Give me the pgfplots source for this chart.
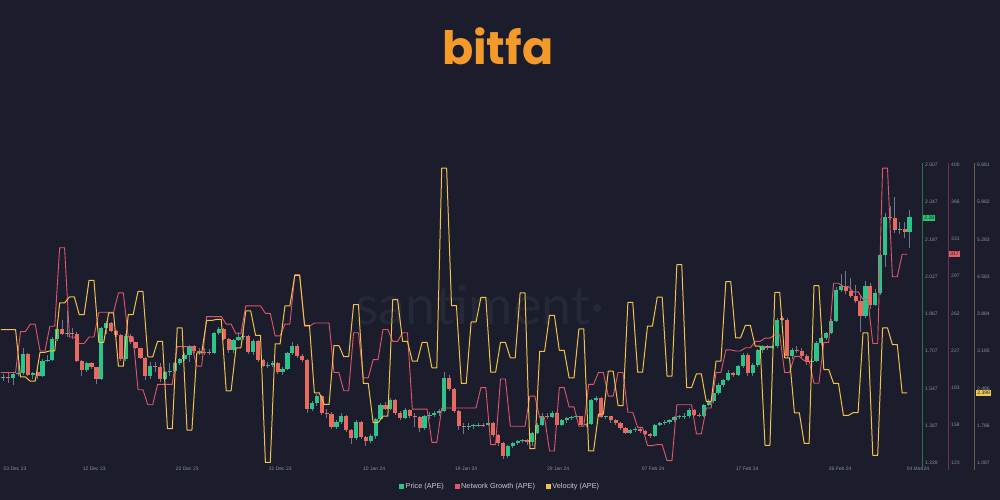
\documentclass[border=0pt]{standalone}
\usepackage{pgfplots}
\pgfplotsset{compat=1.18}
\usepackage{pgfplotstable}
\usepackage{fontspec}
\setmainfont{Liberation Sans}
\newfontfamily\logofont{Poppins}
\newfontfamily\wmfont{Lato}
\definecolor{bg}{HTML}{1B1D2C}
\definecolor{cgreen}{HTML}{2BC48A}
\definecolor{cred}{HTML}{EB6A5F}
\definecolor{wickc}{HTML}{6E7690}
\definecolor{netc}{HTML}{E0566B}
\definecolor{velc}{HTML}{F2C14E}
\definecolor{lblc}{HTML}{8B8E9E}
\definecolor{legc}{HTML}{C9CAD3}
\definecolor{logoc}{HTML}{F39A2B}
\definecolor{wmc}{HTML}{252839}
\definecolor{axg}{HTML}{2E6E4D}
\definecolor{axr}{HTML}{6E3552}
\definecolor{axt}{HTML}{6B5F48}
\definecolor{boxg}{HTML}{26C46E}
\definecolor{boxr}{HTML}{E35D6A}
\definecolor{boxy}{HTML}{F0C94D}

\pgfplotstableread{
i O H L C
0 1.592 1.610 1.578 1.596
1 1.596 1.613 1.570 1.592
2 1.592 1.615 1.563 1.610
3 1.610 1.660 1.600 1.615
4 1.615 1.720 1.606 1.696
5 1.696 1.700 1.600 1.606
6 1.606 1.620 1.590 1.612
7 1.618 1.630 1.590 1.599
8 1.599 1.675 1.595 1.666
9 1.666 1.692 1.660 1.670
10 1.670 1.770 1.665 1.759
11 1.759 1.840 1.750 1.802
12 1.802 1.842 1.775 1.781
13 1.781 1.885 1.770 1.785
14 1.785 1.806 1.760 1.780
15 1.780 1.790 1.660 1.666
16 1.666 1.670 1.600 1.628
17 1.628 1.660 1.620 1.656
18 1.656 1.660 1.630 1.638
19 1.638 1.640 1.566 1.589
20 1.589 1.810 1.585 1.806
21 1.806 1.835 1.780 1.828
22 1.828 1.832 1.790 1.796
23 1.796 1.800 1.770 1.778
24 1.778 1.782 1.665 1.673
25 1.673 1.780 1.665 1.773
26 1.773 1.780 1.740 1.745
27 1.745 1.748 1.715 1.720
28 1.720 1.722 1.675 1.680
29 1.680 1.682 1.585 1.599
30 1.599 1.660 1.590 1.645
31 1.645 1.660 1.620 1.641
32 1.641 1.655 1.575 1.589
33 1.589 1.622 1.585 1.618
34 1.618 1.655 1.600 1.622
35 1.622 1.660 1.615 1.656
36 1.656 1.680 1.650 1.673
37 1.673 1.700 1.665 1.692
38 1.692 1.732 1.660 1.728
39 1.728 1.735 1.700 1.710
40 1.710 1.720 1.690 1.705
41 1.705 1.720 1.690 1.702
42 1.702 1.715 1.690 1.698
43 1.698 1.790 1.695 1.785
44 1.785 1.810 1.775 1.802
45 1.802 1.808 1.755 1.759
46 1.759 1.765 1.700 1.712
47 1.712 1.760 1.700 1.756
48 1.756 1.790 1.750 1.770
49 1.770 1.800 1.755 1.774
50 1.774 1.775 1.695 1.702
51 1.702 1.760 1.690 1.749
52 1.749 1.755 1.660 1.670
53 1.670 1.675 1.640 1.645
54 1.645 1.660 1.635 1.649
55 1.649 1.665 1.640 1.656
56 1.656 1.660 1.610 1.620
57 1.620 1.640 1.605 1.630
58 1.630 1.705 1.625 1.699
59 1.699 1.745 1.690 1.730
60 1.730 1.740 1.680 1.688
61 1.688 1.695 1.660 1.670
62 1.670 1.675 1.440 1.459
63 1.459 1.495 1.450 1.484
64 1.484 1.525 1.470 1.516
65 1.516 1.520 1.435 1.442
66 1.442 1.460 1.420 1.439
67 1.439 1.445 1.375 1.384
68 1.384 1.410 1.375 1.403
69 1.403 1.440 1.395 1.427
70 1.427 1.432 1.360 1.367
71 1.367 1.372 1.310 1.334
72 1.334 1.410 1.325 1.403
73 1.403 1.408 1.330 1.339
74 1.339 1.345 1.300 1.320
75 1.320 1.350 1.312 1.342
76 1.342 1.420 1.330 1.415
77 1.415 1.485 1.410 1.477
78 1.477 1.490 1.455 1.460
79 1.460 1.505 1.455 1.499
80 1.499 1.502 1.435 1.442
81 1.442 1.450 1.410 1.420
82 1.420 1.462 1.415 1.456
83 1.456 1.460 1.420 1.427
84 1.427 1.440 1.380 1.424
85 1.424 1.430 1.360 1.377
86 1.377 1.432 1.370 1.427
87 1.427 1.445 1.415 1.434
88 1.434 1.450 1.425 1.442
89 1.442 1.460 1.430 1.449
90 1.449 1.620 1.445 1.592
91 1.592 1.605 1.535 1.545
92 1.545 1.550 1.440 1.449
93 1.449 1.455 1.370 1.385
94 1.385 1.400 1.350 1.381
95 1.381 1.400 1.370 1.386
96 1.386 1.395 1.375 1.389
97 1.389 1.400 1.380 1.392
98 1.392 1.400 1.382 1.389
99 1.389 1.410 1.385 1.399
100 1.399 1.402 1.340 1.349
101 1.349 1.352 1.300 1.313
102 1.313 1.318 1.245 1.259
103 1.259 1.305 1.250 1.299
104 1.299 1.318 1.290 1.313
105 1.313 1.328 1.305 1.323
106 1.323 1.332 1.315 1.327
107 1.327 1.330 1.305 1.316
108 1.316 1.360 1.300 1.356
109 1.356 1.398 1.350 1.392
110 1.392 1.440 1.385 1.427
111 1.427 1.440 1.415 1.424
112 1.424 1.450 1.420 1.442
113 1.442 1.448 1.385 1.392
114 1.392 1.415 1.385 1.410
115 1.410 1.425 1.400 1.420
116 1.420 1.430 1.410 1.424
117 1.424 1.432 1.415 1.427
118 1.427 1.430 1.385 1.392
119 1.392 1.400 1.380 1.395
120 1.395 1.500 1.390 1.496
121 1.496 1.515 1.490 1.506
122 1.506 1.510 1.420 1.424
123 1.424 1.430 1.415 1.427
124 1.427 1.430 1.400 1.410
125 1.410 1.415 1.390 1.398
126 1.398 1.402 1.370 1.377
127 1.377 1.380 1.350 1.356
128 1.356 1.375 1.350 1.370
129 1.370 1.380 1.362 1.373
130 1.373 1.378 1.355 1.363
131 1.363 1.367 1.348 1.353
132 1.353 1.356 1.335 1.344
133 1.344 1.395 1.340 1.392
134 1.392 1.405 1.385 1.399
135 1.399 1.410 1.392 1.402
136 1.402 1.418 1.395 1.413
137 1.413 1.428 1.405 1.424
138 1.424 1.432 1.415 1.428
139 1.428 1.440 1.418 1.431
140 1.431 1.462 1.420 1.456
141 1.456 1.460 1.428 1.434
142 1.434 1.442 1.425 1.430
143 1.430 1.482 1.425 1.477
144 1.477 1.500 1.470 1.492
145 1.492 1.530 1.485 1.527
146 1.527 1.570 1.520 1.563
147 1.563 1.590 1.555 1.585
148 1.585 1.625 1.578 1.613
149 1.613 1.620 1.598 1.606
150 1.606 1.650 1.600 1.642
151 1.642 1.700 1.635 1.692
152 1.692 1.698 1.600 1.613
153 1.613 1.655 1.600 1.649
154 1.649 1.715 1.640 1.711
155 1.711 1.735 1.700 1.728
156 1.728 1.735 1.712 1.721
157 1.721 1.735 1.715 1.728
158 1.728 1.850 1.720 1.840
159 1.849 1.858 1.835 1.842
160 1.842 1.848 1.680 1.685
161 1.685 1.720 1.675 1.713
162 1.713 1.730 1.700 1.709
163 1.709 1.720 1.680 1.688
164 1.688 1.695 1.650 1.663
165 1.663 1.675 1.640 1.667
166 1.667 1.750 1.660 1.742
167 1.742 1.770 1.735 1.763
168 1.763 1.790 1.755 1.785
169 1.785 1.845 1.780 1.839
170 1.839 1.985 1.835 1.971
171 1.971 2.040 1.960 1.988
172 1.988 2.050 1.955 1.964
173 1.964 2.020 1.935 1.945
174 1.945 1.990 1.915 1.921
175 1.921 1.950 1.790 1.859
176 1.859 2.010 1.850 1.988
177 1.988 2.000 1.890 1.906
178 1.906 1.975 1.900 1.956
179 1.956 2.130 1.950 2.121
180 2.121 2.300 2.070 2.285
181 2.285 2.330 2.270 2.281
182 2.281 2.370 2.215 2.228
183 2.228 2.260 2.210 2.232
184 2.232 2.264 2.192 2.220
185 2.220 2.314 2.150 2.285
}\candles

\pgfplotstableread{
x n v
-0.5 207 3.589
0.5 207 3.589
1.5 207 3.589
2.5 207 3.589
3.5 245 2.70
4.5 245 2.70
5.5 252 2.62
6.5 252 2.62
7.5 227 3.163
8.5 227 3.163
9.5 250 3.19
10.5 250 3.19
11.5 323 4.089
12.5 323 4.089
13.5 240 4.202
14.5 240 4.202
15.5 234 3.87
16.5 234 3.87
17.5 240 4.513
18.5 240 4.513
19.5 263 3.351
20.5 263 3.351
21.5 263 3.902
22.5 263 3.902
23.5 281 2.901
24.5 281 2.901
25.5 240 3.87
26.5 240 3.87
27.5 191 4.307
28.5 191 4.307
29.5 177 3.077
30.5 177 3.077
31.5 196 3.37
32.5 196 3.37
33.5 196 1.728
34.5 196 1.728
35.5 231 3.621
36.5 231 3.621
37.5 231 1.702
38.5 231 1.702
39.5 213 3.15
40.5 213 3.15
41.5 259 3.76
42.5 259 3.76
43.5 259 3.78
44.5 259 3.78
45.5 252 2.44
46.5 252 2.44
47.5 243 3.245
48.5 243 3.245
49.5 269 3.94
50.5 269 3.94
51.5 269 3.48
52.5 269 3.48
53.5 262 1.095
54.5 262 1.095
55.5 241 3.32
56.5 241 3.32
57.5 252 4.035
58.5 252 4.035
59.5 298 4.605
60.5 298 4.605
61.5 250 3.67
62.5 250 3.67
63.5 253 2.40
64.5 253 2.40
65.5 253 2.183
66.5 253 2.183
67.5 207 3.29
68.5 207 3.29
69.5 190 3.08
70.5 190 3.08
71.5 244 4.057
72.5 244 4.057
73.5 202 2.577
74.5 202 2.577
75.5 219 1.84
76.5 219 1.84
77.5 247 1.964
78.5 247 1.964
79.5 236 4.151
80.5 236 4.151
81.5 244 3.37
82.5 244 3.37
83.5 173 2.995
84.5 173 2.995
85.5 173 3.351
86.5 173 3.351
87.5 142 2.871
88.5 142 2.871
89.5 174 6.619
90.5 174 6.619
91.5 174 4.039
92.5 174 4.039
93.5 174 2.577
94.5 174 2.577
95.5 174 3.733
96.5 174 3.733
97.5 193 4.194
98.5 193 4.194
99.5 140 2.789
100.5 140 2.789
101.5 201 3.351
102.5 201 3.351
103.5 157 3.058
104.5 157 3.058
105.5 157 4.277
106.5 157 4.277
107.5 185 1.353
108.5 185 1.353
109.5 165 3.182
110.5 165 3.182
111.5 134 3.857
112.5 134 3.857
113.5 193 3.2
114.5 193 3.2
115.5 175 2.684
116.5 175 2.684
117.5 157 3.602
118.5 157 3.602
119.5 196 1.31
120.5 196 1.31
121.5 207 2.0
122.5 207 2.0
123.5 185 2.808
124.5 185 2.808
125.5 207 2.16
126.5 207 2.16
127.5 170 4.10
128.5 170 4.10
129.5 156 2.789
130.5 156 2.789
131.5 139 3.652
132.5 139 3.652
133.5 140 4.20
134.5 140 4.20
135.5 125 2.714
136.5 125 2.714
137.5 177 4.807
138.5 177 4.807
139.5 177 2.50
140.5 177 2.50
141.5 150 2.758
142.5 150 2.758
143.5 174 2.24
144.5 174 2.24
145.5 207 2.996
146.5 207 2.996
147.5 228 4.49
148.5 228 4.49
149.5 227 3.433
150.5 227 3.433
151.5 230 3.67
152.5 230 3.67
153.5 236 3.277
154.5 236 3.277
155.5 239 1.415
156.5 239 1.415
157.5 242 4.289
158.5 242 4.289
159.5 207 3.058
160.5 207 3.058
161.5 222 2.027
162.5 222 2.027
163.5 218 1.452
164.5 218 1.452
165.5 197 4.414
166.5 197 4.414
167.5 235 2.839
168.5 235 2.839
169.5 290 2.577
170.5 290 2.577
171.5 287 1.977
172.5 287 1.977
173.5 282 2.03
174.5 282 2.03
175.5 275 3.527
176.5 275 3.527
177.5 234 1.228
178.5 234 1.228
179.5 397 3.62
180.5 397 3.62
181.5 296 3.308
182.5 296 3.308
183.5 317 2.399
184.5 317 2.399
}\lines

\pgfplotsset{
  ovl/.style={scale only axis, width=920pt, height=298pt, at={(0pt,37pt)}, anchor=south west,
    xmin=-0.612, xmax=187.143, axis line style={draw=none}, major tick length=0pt, clip=false,
    ytick pos=right, yticklabel pos=right, tick style={draw=none},
    yticklabel style={text=lblc, font=\fontsize{5}{6}\selectfont, anchor=west, inner sep=0pt}},
  candle/.style={draw=none, mark=none, forget plot},
}

\begin{document}
\begin{tikzpicture}[x=1pt,y=1pt]
\fill[bg] (0,0) rectangle (1000,500);
\node[text=logoc, font=\logofont\bfseries\fontsize{46}{50}\selectfont, inner sep=0pt] at (497.5,453.5) {bitfa};
\node[text=wmc, font=\wmfont\fontsize{54}{60}\selectfont] at (480,195) {santiment·};
\draw[axg, line width=1pt] (922,30) -- (922,337);
\draw[axr, line width=1pt] (948,30) -- (948,337);
\draw[axt, line width=1pt] (974,30) -- (974,337);

\begin{axis}[ovl, ymin=1.228, ymax=2.507,
  ytick={1.228,1.387,1.547,1.707,1.867,2.027,2.187,2.347,2.507},
  yticklabels={1.228,1.387,1.547,1.707,1.867,2.027,2.187,2.347,2.507},
  yticklabel style={xshift=5pt},
  xtick={2.39,18.57,37.55,56.53,75.71,94.49,113.27,132.65,151.84,170.82,186.73},
  xticklabels={03 Dec 23,12 Dec 23,22 Dec 23,31 Dec 23,10 Jan 24,19 Jan 24,29 Jan 24,07 Feb 24,17 Feb 24,26 Feb 24,04 Mar 24},
  xticklabel style={text=lblc, font=\fontsize{5}{6}\selectfont, anchor=north, inner sep=0pt, yshift=-3.5pt},
  legend style={at={(0.5435,-0.0805)}, anchor=center, draw=none, fill=none, text=legc,
    font=\fontsize{7.3}{9}\selectfont, legend columns=3, inner sep=0pt,
    /tikz/every even column/.append style={column sep=9pt}},
  legend cell align=left]
\addlegendimage{legend image code/.code={\fill[cgreen] (0pt,-1.8pt) rectangle (4pt,2.2pt);}}
\addlegendentry{Price (APE)}
\addlegendimage{legend image code/.code={\fill[netc] (0pt,-1.8pt) rectangle (4pt,2.2pt);}}
\addlegendentry{Network Growth (APE)}
\addlegendimage{legend image code/.code={\fill[velc] (0pt,-1.8pt) rectangle (4pt,2.2pt);}}
\addlegendentry{Velocity (APE)}
\addplot[candle,
  error bars/.cd, y dir=both, y explicit, error mark=none,
  error bar style={line width=0.8pt, draw=wickc}]
  table[x=i, y=O, y error plus expr={\thisrow{H}-\thisrow{O}}, y error minus expr={\thisrow{O}-\thisrow{L}}] {\candles};
\addplot[candle,
  restrict expr to domain={\thisrow{C}-\thisrow{O}}{0:10},
  error bars/.cd, y dir=plus, y explicit, error mark=none,
  error bar style={line width=4.2pt, draw=cgreen}]
  table[x=i, y=O, y error plus expr={\thisrow{C}-\thisrow{O}}] {\candles};
\addplot[candle,
  restrict expr to domain={\thisrow{O}-\thisrow{C}}{0.00001:10},
  error bars/.cd, y dir=minus, y explicit, error mark=none,
  error bar style={line width=4.2pt, draw=cred}]
  table[x=i, y=O, y error minus expr={\thisrow{O}-\thisrow{C}}] {\candles};
\coordinate (pl) at (axis cs:187.143,2.28);
\end{axis}

\begin{axis}[ovl, ymin=123, ymax=400, xtick=\empty,
  ytick={123,158,193,227,262,297,331,366,400},
  yticklabels={123,158,193,227,262,297,331,366,400},
  yticklabel style={xshift=31pt}]
\addplot[netc, line width=0.9pt, line join=round, mark=none] table[x=x, y=n] {\lines};
\coordinate (nl) at (axis cs:187.143,317);
\end{axis}

\begin{axis}[ovl, ymin=1.087, ymax=6.681, xtick=\empty,
  ytick={1.087,1.786,2.486,3.185,3.884,4.583,5.283,5.982,6.681},
  yticklabels={1.087,1.786,2.486,3.185,3.884,4.583,5.283,5.982,6.681},
  yticklabel style={xshift=57pt}]
\addplot[velc, line width=1pt, line join=round, mark=none] table[x=x, y=v] {\lines};
\coordinate (vl) at (axis cs:187.143,2.399);
\end{axis}

\node[fill=boxg, text=bg, font=\fontsize{5}{6}\selectfont, inner sep=1.2pt, anchor=west] at ([xshift=3pt]pl) {2.28};
\node[fill=boxr, text=bg, font=\fontsize{5}{6}\selectfont, inner sep=1.2pt, anchor=west] at ([xshift=29pt]nl) {317};
\node[fill=boxy, text=bg, font=\fontsize{5}{6}\selectfont, inner sep=1.2pt, anchor=west] at ([xshift=56pt]vl) {2.399};
\end{tikzpicture}
\end{document}
